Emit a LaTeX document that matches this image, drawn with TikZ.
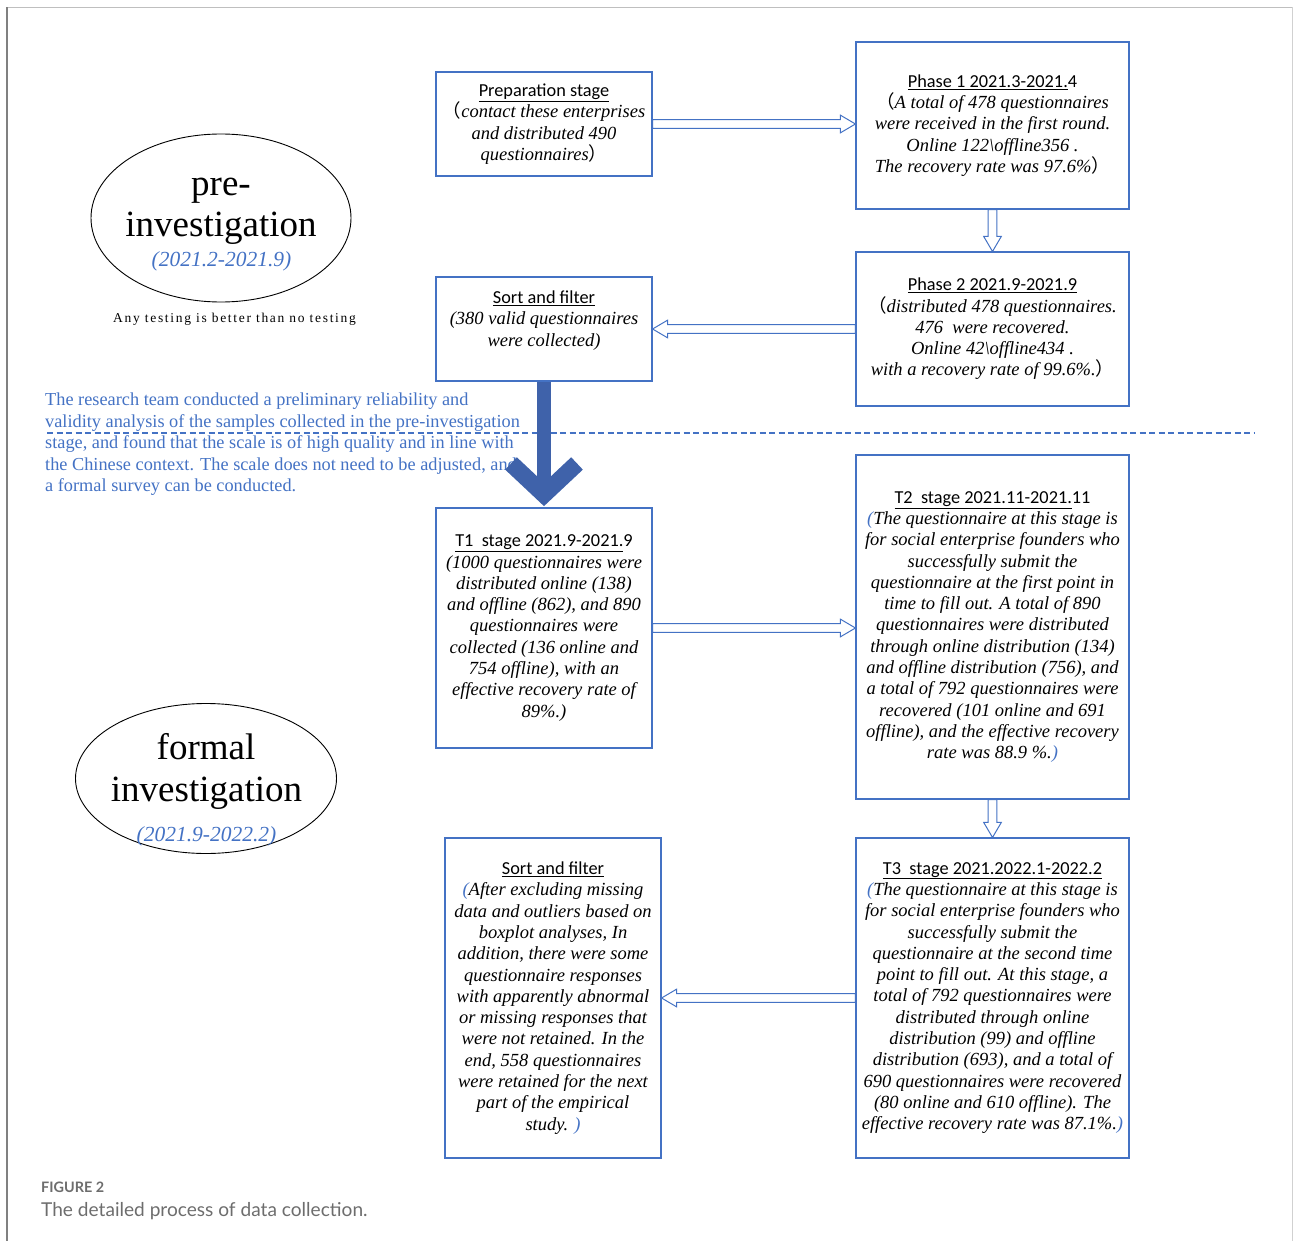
\documentclass[tikz,border=0pt]{standalone}
\usepackage{fontspec}
\setmainfont{Liberation Serif}
\newfontfamily\carlito{Carlito}
\newfontfamily\cjk{Noto Sans CJK SC}
\newfontfamily\lato{Lato}
\newfontfamily\timesit{Liberation Serif Italic}
\newfontfamily\spaced[LetterSpace=12.5]{Liberation Serif}
\usetikzlibrary{shapes.geometric,calc}
\definecolor{bl}{HTML}{4472C4}
\definecolor{bigarrow}{RGB}{63,98,170}
\definecolor{capgrey}{HTML}{6D6D6D}
\newcommand{\bodyfont}{\timesit\fontsize{18.5}{21.3}\selectfont}
\newcommand{\hd}[1]{{\carlito\upshape\fontsize{18.3}{21.3}\selectfont #1}}
\newcommand{\lpar}{{\cjk （}}
\newcommand{\rpar}{{\cjk ）}}
\newcommand{\bpar}[1]{{\color{bl}#1}}
\begin{document}
\begin{tikzpicture}[x=1pt,y=-1pt,
  box/.style={draw=bl, line width=1.1pt, rectangle, inner sep=0pt, align=center,
    font=\bodyfont},
  oval/.style={draw=black, line width=0.9pt, ellipse, inner sep=0pt},
  bigtext/.style={font=\fontsize{37}{40}\selectfont, anchor=base, inner sep=0pt},
  datetext/.style={font=\timesit\fontsize{21.5}{26}\selectfont, text=bl, anchor=base, inner sep=0pt},
  hollow/.style={draw=bl, line width=1pt, fill=white, line join=miter,
    to path={
      ($(\tikztotarget)!15pt!(\tikztostart)$) coordinate (hb)
      ($(\tikztostart)!4.3pt!90:(\tikztotarget)$) --
      ($(hb)!4.3pt!90:(\tikztotarget)$) --
      ($(hb)!8.8pt!90:(\tikztotarget)$) --
      (\tikztotarget) --
      ($(hb)!8.8pt!-90:(\tikztotarget)$) --
      ($(hb)!4.3pt!-90:(\tikztotarget)$) --
      ($(\tikztostart)!4.3pt!-90:(\tikztotarget)$) -- cycle}},
]
\useasboundingbox (0,0) rectangle (1293,1241);
% frame
\coordinate (fa) at (7,7.5);
\coordinate (fb) at (1292,7.5);
\coordinate (fc) at (7,1241);
\coordinate (fd) at (1292,1241);
\draw[color=black!25, line width=1.2pt] (fa) -- (fb);
\draw[color=black!50, line width=1.2pt] (fa) -- (fc);
\draw[color=black!18, line width=1pt] (fb) -- (fd);

% dashed separator
\coordinate (dl) at (47,433);
\coordinate (dr) at (1255,433);
\draw[bl, line width=1.2pt, dash pattern=on 6pt off 3.5pt] (dl) -- (dr);

% ellipses
\node[oval, minimum width=260, minimum height=168] (e1) at (221,218) {};
\node[bigtext] (e1a) at (221,196) {pre-};
\node[bigtext] (e1b) at (221,237) {investigation};
\node[datetext] (e1c) at (221.5,267) {(2021.2-2021.9)};
\node[font=\spaced\fontsize{13.5}{15}\selectfont, anchor=base west, inner sep=0pt] (motto) at (113,323) {Any testing is better than no testing};

\node[oval, minimum width=261, minimum height=150] (e2) at (206,778.5) {};
\node[bigtext] (e2a) at (206,759) {formal};
\node[bigtext] (e2b) at (206.5,801) {investigation};
\node[datetext] (e2c) at (206.5,841) {(2021.9-2022.2)};

% blue paragraph
\node[font=\fontsize{18.3}{21.5}\selectfont, text=bl, align=left, anchor=north west, inner sep=0pt] (para) at (45,393)
{The research team conducted a preliminary reliability and\\
validity analysis of the samples collected in the pre-investigation\\
stage, and found that the scale is of high quality and in line with\\
the Chinese context. The scale does not need to be adjusted, and\\
a formal survey can be conducted.};

% boxes
\node[box, minimum width=216, minimum height=104] (prep) at (544,124)
{\hd{\underline{Preparation stage}}\\\bodyfont
\lpar contact these enterprises\\
and distributed 490\\
questionnaires\rpar};

\node[box, minimum width=273, minimum height=167] (phase1) at (992.5,125.5)
{\hd{\underline{Phase 1 2021.3-2021.}4}\\\bodyfont
\lpar A total of 478 questionnaires\\
were received in the first round.\\
Online 122\textbackslash offline356 .\\
The recovery rate was 97.6\%\rpar};

\node[box, minimum width=273, minimum height=154] (phase2) at (992.5,329)
{\hd{\underline{Phase 2 2021.9-2021.9}}\\\bodyfont
\lpar distributed 478 questionnaires.\\
476~ were recovered.\\
Online 42\textbackslash offline434 .\\
with a recovery rate of 99.6\%.\rpar};

\node[box, minimum width=216, minimum height=104] (sort1) at (544,329)
{\hd{\underline{Sort and filter}}\\\bodyfont
(380 valid questionnaires\\
were collected)\\ \mbox{}};

\node[box, minimum width=216, minimum height=240] (t1) at (544,628)
{\hd{\underline{T1~ stage 2021.9-2021.}9}\\\bodyfont
(1000 questionnaires were\\
distributed online (138)\\
and offline (862), and 890\\
questionnaires were\\
collected (136 online and\\
754 offline), with an\\
effective recovery rate of\\
89\%.)};

\node[box, minimum width=273, minimum height=344] (t2) at (992.5,627)
{\hd{\underline{T2~ stage 2021.11-2021.}11}\\\bodyfont
\bpar{(}The questionnaire at this stage is\\
for social enterprise founders who\\
successfully submit the\\
questionnaire at the first point in\\
time to fill out. A total of 890\\
questionnaires were distributed\\
through online distribution (134)\\
and offline distribution (756), and\\
a total of 792 questionnaires were\\
recovered (101 online and 691\\
offline), and the effective recovery\\
rate was 88.9 \%.\bpar{)}};

\node[box, minimum width=216, minimum height=320] (sort2) at (553,998)
{\hd{\underline{Sort and filter}}\\\bodyfont
\bpar{(}After excluding missing\\
data and outliers based on\\
boxplot analyses, In\\
addition, there were some\\
questionnaire responses\\
with apparently abnormal\\
or missing responses that\\
were not retained. In the\\
end, 558 questionnaires\\
were retained for the next\\
part of the empirical\\
study. \bpar{)}};

\node[box, minimum width=273, minimum height=320] (t3) at (992.5,998)
{\hd{\underline{T3~ stage 2021.2022.1-2022.2}}\\\bodyfont
\bpar{(}The questionnaire at this stage is\\
for social enterprise founders who\\
successfully submit the\\
questionnaire at the second time\\
point to fill out. At this stage, a\\
total of 792 questionnaires were\\
distributed through online\\
distribution (99) and offline\\
distribution (693), and a total of\\
690 questionnaires were recovered\\
(80 online and 610 offline). The\\
effective recovery rate was 87.1\%.\bpar{)}};

% hollow arrows
\draw[hollow] (prep.east) to (prep.east -| phase1.west);
\draw[hollow] (phase1.south) to (phase2.north);
\draw[hollow] (phase2.west) to (phase2.west -| sort1.east);
\draw[hollow] (t1.east) to (t1.east -| t2.west);
\draw[hollow] (t2.south) to (t3.north);
\draw[hollow] (t3.west) to (t3.west -| sort2.east);

% big arrow
\coordinate (apex) at ($(t1.north)+(0,-13)$);
\coordinate (armL) at ($(apex)+(-33,-31)$);
\coordinate (armR) at ($(apex)+(33,-31)$);
\draw[bigarrow, line width=14pt] (sort1.south) -- (apex);
\draw[bigarrow, line width=17pt, line join=miter, miter limit=4] (armL) -- (apex) -- (armR);

% caption
\node[font=\lato\bfseries\fontsize{14.4}{16}\selectfont, text=capgrey, anchor=base west, inner sep=0pt] (figlabel) at (41,1192) {FIGURE 2};
\node[font=\lato\fontsize{19.1}{22}\selectfont, text=capgrey, anchor=base west, inner sep=0pt] (figcap) at (41,1216) {The detailed process of data collection.};
\end{tikzpicture}
\end{document}
